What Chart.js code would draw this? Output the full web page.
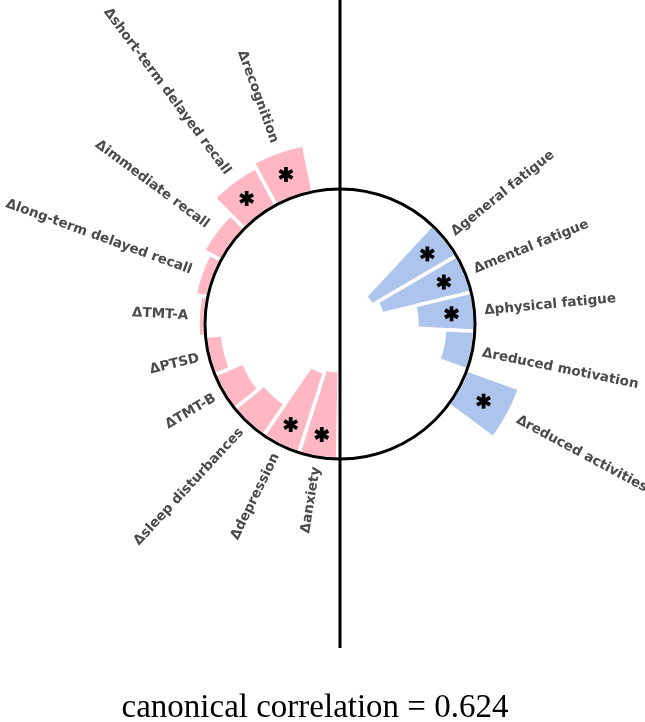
<!DOCTYPE html>
<html>
<head>
<meta charset="utf-8">
<script src="https://cdn.jsdelivr.net/npm/chart.js@4.4.1/dist/chart.umd.min.js"></script>
<style>
html, body { margin: 0; background: #fff; }
#wrap { width: 645px; height: 722px; }
</style>
</head>
<body>
<div id="wrap"><canvas id="myChart"></canvas></div>
<script>
// clockwise from the bottom of the circle
var cognLabels = ['Δanxiety', 'Δdepression', 'Δsleep disturbances', 'ΔTMT-B', 'ΔPTSD', 'ΔTMT-A',
    'Δlong-term delayed recall', 'Δimmediate recall', 'Δshort-term delayed recall', 'Δrecognition'];
var cognValues = [-0.88, -0.84, -0.38, -0.31, -0.17, 0.07, 0.13, 0.20, 0.43, 0.48];
var cognSig = [1, 1, 0, 0, 0, 0, 0, 0, 1, 1];

var fatigueLabels = ['Δgeneral fatigue', 'Δmental fatigue', 'Δphysical fatigue', 'Δreduced motivation', 'Δreduced activities'];
var fatigueValues = [-0.98, -0.92, -0.58, -0.30, 0.56];
var fatigueSig = [1, 1, 1, 0, 1];

var caption = 'canonical correlation = 0.624';

var barAngle = 16.75; // degrees per variable
var labels = [], values = [], sig = [], colors = [];

function addGroup(l, v, s, c) {
    for (var i = 0; i < l.length; i++) {
        labels.push(l[i]); values.push(v[i]); sig.push(s[i]); colors.push(c);
    }
}
function addGap() {
    labels.push(''); values.push(0); sig.push(0); colors.push('rgba(0,0,0,0)');
}
addGroup(cognLabels, cognValues, cognSig, '#ffb8c3');
addGap();
addGroup(fatigueLabels, fatigueValues, fatigueSig, '#adc5ec');
addGap();

var nBars = cognLabels.length + fatigueLabels.length;
var gapAngle = (360 - nBars * barAngle) / 2;

function drawStar(ctx, x, y) {
    ctx.save();
    ctx.strokeStyle = '#000';
    ctx.lineWidth = 3.8;
    for (var k = 0; k < 3; k++) {
        var a = Math.PI / 2 + k * Math.PI / 3;
        ctx.beginPath();
        ctx.moveTo(x - 7.5 * Math.cos(a), y - 7.5 * Math.sin(a));
        ctx.lineTo(x + 7.5 * Math.cos(a), y + 7.5 * Math.sin(a));
        ctx.stroke();
    }
    ctx.beginPath();
    ctx.arc(x, y, 3, 0, Math.PI * 2);
    ctx.fillStyle = '#000';
    ctx.fill();
    ctx.restore();
}

var helio = {
    id: 'helio',
    afterDatasetsUpdate: function(chart) {
        var scale = chart.scales.r;
        var base = scale.getDistanceFromCenterForValue(0);
        chart.getDatasetMeta(0).data.forEach(function(arc, i) {
            var r = scale.getDistanceFromCenterForValue(values[i]);
            arc.innerRadius = Math.min(base, r);
            arc.outerRadius = Math.max(base, r);
        });
    },
    afterDatasetsDraw: function(chart) {
        var ctx = chart.ctx;
        var scale = chart.scales.r;
        var cx = scale.xCenter, cy = scale.yCenter;
        var R = scale.getDistanceFromCenterForValue(0);

        ctx.save();
        ctx.strokeStyle = '#000';
        ctx.lineWidth = 3;
        ctx.beginPath();
        ctx.moveTo(cx, 0);
        ctx.lineTo(cx, 648);
        ctx.stroke();
        ctx.beginPath();
        ctx.arc(cx, cy, R, 0, Math.PI * 2);
        ctx.stroke();

        chart.getDatasetMeta(0).data.forEach(function(arc, i) {
            if (!labels[i]) return;
            var mid = (arc.startAngle + arc.endAngle) / 2;
            var cos = Math.cos(mid), sin = Math.sin(mid);

            if (sig[i]) {
                var rs = values[i] > 0 ? scale.getDistanceFromCenterForValue(values[i] / 2)
                                       : scale.getDistanceFromCenterForValue(-0.23);
                drawStar(ctx, cx + rs * cos, cy + rs * sin);
            }

            var rl = Math.max(R, arc.outerRadius) + 10;
            ctx.save();
            ctx.translate(cx + rl * cos, cy + rl * sin);
            ctx.font = 'bold 13.5px "DejaVu Sans", Verdana, sans-serif';
            ctx.fillStyle = '#4a4a4a';
            ctx.textBaseline = 'middle';
            if (cos >= 0) {
                ctx.rotate(mid);
                ctx.textAlign = 'left';
            } else {
                ctx.rotate(mid + Math.PI);
                ctx.textAlign = 'right';
            }
            ctx.fillText(labels[i], 0, 0);
            ctx.restore();
        });

        ctx.font = '33px "Liberation Serif", "Times New Roman", serif';
        ctx.fillStyle = '#000';
        ctx.textAlign = 'center';
        ctx.textBaseline = 'alphabetic';
        ctx.fillText(caption, 315, 717);
        ctx.restore();
    }
};

var ctx = document.getElementById('myChart');

var myChart = new Chart(ctx, {
    type: 'polarArea',
    data: {
        labels: labels,
        datasets: [{
            data: values,
            backgroundColor: colors,
            borderColor: '#fff',
            borderWidth: function(c) { return labels[c.dataIndex] ? 3.5 : 0; },
            angle: function(c) { return labels[c.dataIndex] ? barAngle : gapAngle; }
        }]
    },
    options: {
        responsive: true,
        maintainAspectRatio: false,
        animation: false,
        events: [],
        layout: { padding: { left: 140, right: 105, top: 124, bottom: 198 } },
        plugins: {
            legend: { display: false },
            tooltip: { enabled: false }
        },
        scales: {
            r: {
                min: -1.35,
                max: 0.65,
                startAngle: 181,
                ticks: { display: false },
                grid: { display: false },
                angleLines: { display: false },
                pointLabels: { display: false }
            }
        }
    },
    plugins: [helio]
});
</script>
</body>
</html>
